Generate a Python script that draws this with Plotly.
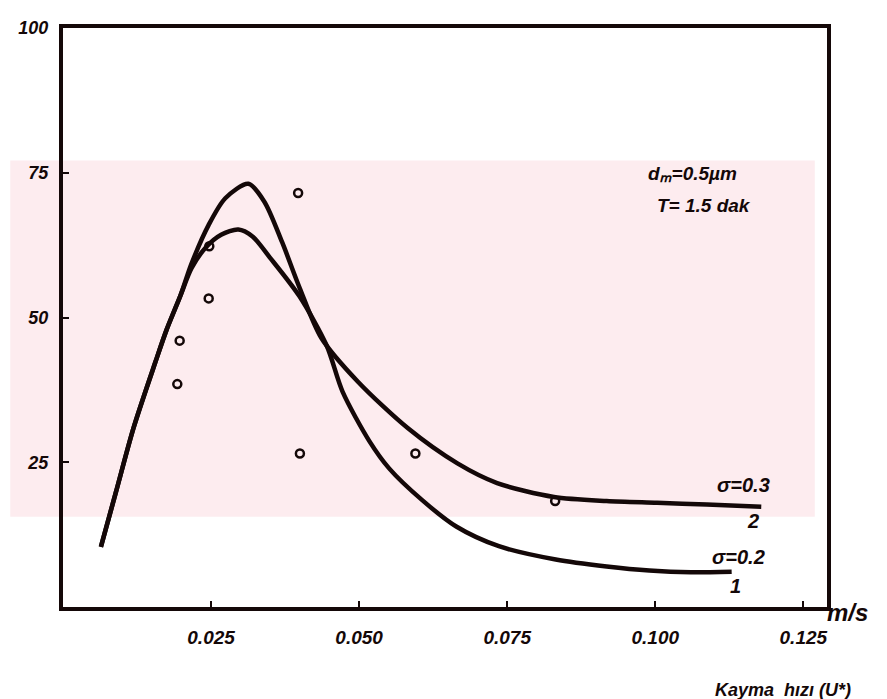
import plotly.graph_objects as go

# Data
curve1_x = [0.0064, 0.0089, 0.0119, 0.0156, 0.0175, 0.0198, 0.0217, 0.0241, 0.0267, 0.0296,
            0.0320, 0.0349, 0.0399, 0.0445, 0.0472, 0.0517, 0.0551, 0.0606, 0.0664, 0.0736,
            0.0832, 0.0918, 0.0990, 0.1060, 0.1129]
curve1_y = [10.4, 19.7, 30.9, 42.3, 47.9, 53.7, 58.5, 62.1, 64.3, 65.2,
            64.0, 60.4, 53.7, 45.2, 37.2, 28.7, 23.9, 18.5, 13.9, 10.5,
            8.2, 7.0, 6.3, 6.0, 6.1]

curve2_x = [0.0064, 0.0089, 0.0119, 0.0156, 0.0175, 0.0198, 0.0217, 0.0246, 0.0274, 0.0313,
            0.0340, 0.0370, 0.0400, 0.0436, 0.0498, 0.0582, 0.0666, 0.0733, 0.0829, 0.0918,
            0.1003, 0.1087, 0.1179]
curve2_y = [10.4, 19.7, 30.9, 42.3, 47.9, 53.7, 59.3, 66.0, 70.6, 73.1,
            70.0, 63.0, 55.0, 46.5, 38.9, 30.9, 24.8, 21.4, 19.0, 18.3,
            18.0, 17.7, 17.3]

points_x = [0.0193, 0.0197, 0.0246, 0.0247, 0.0397, 0.0400, 0.0595, 0.0831]
points_y = [38.5, 46.0, 53.3, 62.3, 71.5, 26.5, 26.5, 18.3]

x_ticks = [0.025, 0.050, 0.075, 0.100, 0.125]
x_ticktext = ["0.025", "0.050", "0.075", "0.100", "0.125"]
y_ticks = [25, 50, 75, 100]
y_ticktext = ["25", "50", "75", "100"]

INK = "#140808"
FONT = dict(family="Liberation Sans, Arial, sans-serif", color=INK, size=18,
            weight="bold", style="italic")

fig = go.Figure()
fig.add_trace(go.Scatter(x=curve1_x, y=curve1_y, mode="lines",
                         line=dict(color=INK, width=4.5, shape="spline", smoothing=0.8),
                         showlegend=False, hoverinfo="skip"))
fig.add_trace(go.Scatter(x=curve2_x, y=curve2_y, mode="lines",
                         line=dict(color=INK, width=4.5, shape="spline", smoothing=0.8),
                         showlegend=False, hoverinfo="skip"))
fig.add_trace(go.Scatter(x=points_x, y=points_y, mode="markers",
                         marker=dict(symbol="circle-open", size=8, color=INK,
                                     line=dict(width=2.5, color=INK)),
                         showlegend=False, hoverinfo="skip"))

# faint pink watermark band behind the plot (scan background)
fig.add_shape(type="rect", xref="paper", yref="paper",
              x0=-0.069, x1=0.984, y0=0.156, y1=0.771,
              fillcolor="#fdecef", line=dict(width=0), layer="below")

fig.update_layout(
    width=887, height=699,
    margin=dict(l=53, r=68, t=10, b=100),
    paper_bgcolor="white", plot_bgcolor="rgba(0,0,0,0)",
    font=FONT,
    xaxis=dict(range=[0, 0.129], tickvals=x_ticks, ticktext=x_ticktext,
               ticks="inside", ticklen=6, tickwidth=2, tickcolor=INK,
               showline=True, linewidth=4, linecolor=INK, mirror=True,
               showgrid=False, zeroline=False, tickfont=dict(FONT, size=19),
               ticklabelstandoff=10),
    yaxis=dict(range=[0, 100], tickvals=y_ticks, ticktext=y_ticktext,
               ticks="inside", ticklen=6, tickwidth=2, tickcolor=INK,
               showline=True, linewidth=4, linecolor=INK, mirror=True,
               showgrid=False, zeroline=False, tickfont=dict(FONT, size=18),
               ticklabelstandoff=7),
)

def ann(text, x, y, xanchor="left", size=18, xref="x", yref="y"):
    fig.add_annotation(text=text, x=x, y=y, xref=xref, yref=yref, showarrow=False,
                       xanchor=xanchor, yanchor="middle",
                       font=dict(FONT, size=size))

ann("dₘ=0.5µm", 0.0985, 74.9, size=19)
ann("T= 1.5 dak", 0.1000, 69.3, size=19)
ann("σ=0.3", 0.1101, 21.1, size=20)
ann("2", 0.1165, 14.8, xanchor="center", size=20)
ann("σ=0.2", 0.1093, 8.7, size=20)
ann("1", 0.1135, 3.6, xanchor="center", size=20)
ann("m/s", 0.998, -0.010, size=24, xref="paper", yref="paper")
ann("Kayma  hızı (U*)", 0.851, -0.143, size=18, xref="paper", yref="paper")

fig.write_html("out.html")
